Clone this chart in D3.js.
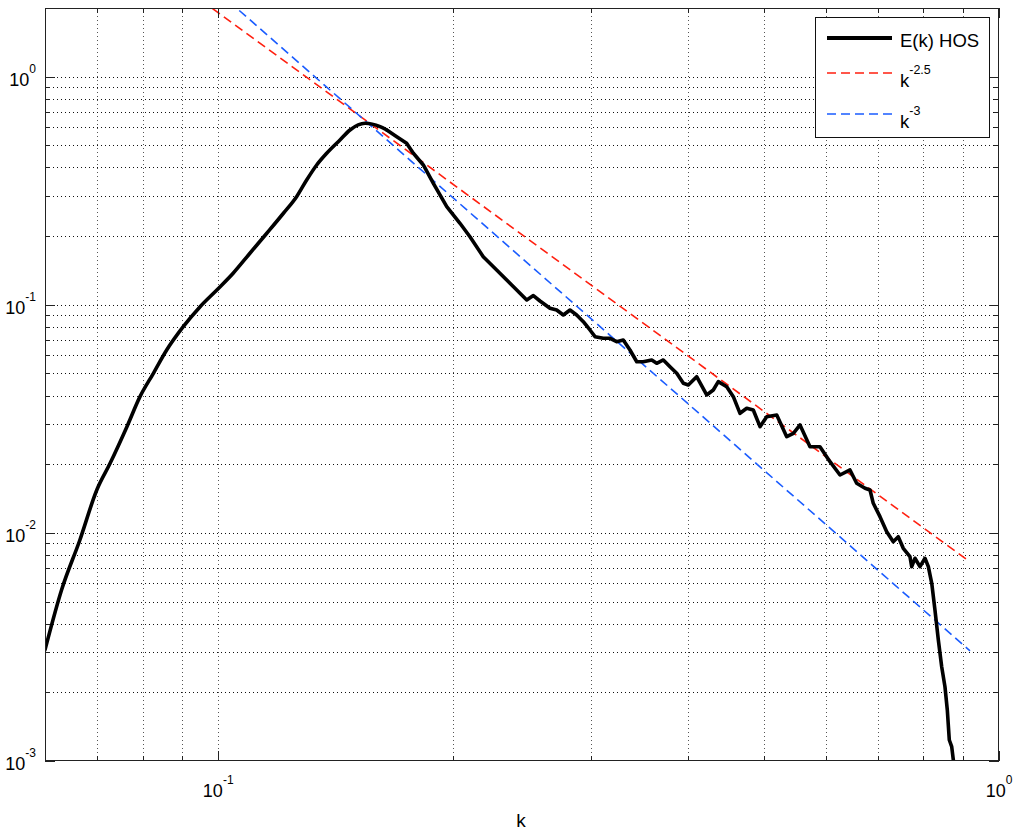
<!DOCTYPE html>
<html><head><meta charset="utf-8">
<script src="https://cdn.jsdelivr.net/npm/d3@7"></script>
<style>
body{margin:0;background:#fff}
svg{display:block}
text{font-family:"Liberation Sans",Arial,Helvetica,sans-serif;fill:#000}
</style>
</head><body>
<svg id="chart" width="1016" height="834"></svg>
<script>
// ---- data ----
const kValues = [0.0600,0.0630,0.0665,0.0699,0.0727,0.0764,0.0794,0.0826,0.0859,0.0902,0.0948,0.0996,
  0.1045,0.1098,0.1154,0.1212,0.1260,0.1298,0.1337,0.1377,0.1432,0.1475,0.1542,0.1612,0.1644,0.1693,
  0.1743,0.1778,0.1831,0.1886,0.1962,0.2040,0.2101,0.2185,0.2273,0.2364,0.2435,0.2484,0.2533,0.2583,
  0.2660,0.2713,0.2767,0.2822,0.2878,0.2935,0.2993,0.3038,0.3113,0.3175,0.3238,0.3302,0.3368,0.3436,
  0.3503,0.3591,0.3644,0.3716,0.3790,0.3866,0.3942,0.4000,0.4100,0.4223,0.4306,0.4370,0.4480,0.4568,
  0.4659,0.4752,0.4845,0.4942,0.5041,0.5192,0.5347,0.5453,0.5561,0.5727,0.5898,0.6075,0.6257,0.6444,
  0.6572,0.6736,0.6836,0.6902,0.7040,0.7181,0.7321,0.7430,0.7540,0.7691,0.7730,0.7805,0.7921,0.8039,
  0.8119,0.8201,0.8279,0.8362,0.8445,0.8527,0.8586,0.8637,0.8698,0.8740,0.8783];
const eValues = [0.00307,0.00562,0.00931,0.01542,0.02019,0.02921,0.03956,0.05008,0.06335,0.08017,0.0981,0.1161,
  0.1375,0.1682,0.2058,0.2519,0.2978,0.3525,0.4101,0.4615,0.5280,0.5839,0.6249,0.6037,0.5839,0.5457,
  0.5105,0.4615,0.4101,0.3409,0.2692,0.2277,0.1988,0.1625,0.1421,0.1243,0.1123,0.1050,0.1098,0.1039,
  0.09654,0.09489,0.09022,0.09489,0.09022,0.08433,0.07755,0.07246,0.07129,0.07129,0.06889,0.07009,0.06335,0.05628,
  0.05628,0.05728,0.05540,0.05728,0.05353,0.05008,0.04528,0.04450,0.04839,0.04023,0.04231,0.04602,0.04375,0.03956,
  0.03344,0.03518,0.03458,0.02921,0.03231,0.03287,0.02640,0.02733,0.02972,0.02387,0.02387,0.02052,0.01794,0.01887,
  0.01650,0.01569,0.01542,0.01348,0.01178,0.01012,0.009151,0.009623,0.008559,0.007864,0.00711,0.007738,0.00711,0.007738,
  0.00711,0.006012,0.004592,0.003392,0.002591,0.002117,0.001674,0.001236,0.001156,0.00101,0.00095];
const red25K = [0.092, 0.918];
const red25E = [2.35, 0.00746];
const blue3K = [0.100, 0.918];
const blue3E = [2.35, 0.00304];
const legendLabels = [{base:"E(k) HOS", sup:""},{base:"k", sup:"-2.5"},{base:"k", sup:"-3"}];
const xMajorTicks = [0.1, 1];
const xMinorTicks = [0.07,0.08,0.09,0.2,0.3,0.4,0.5,0.6,0.7,0.8,0.9];
const xTickLabels = [{v:0.1, exp:"-1"},{v:1, exp:"0"}];
const yMajorTicks = [0.001, 0.01, 0.1, 1];
const yMinorTicks = [];
[0.001,0.01,0.1,1].forEach(d=>{for(let m=2;m<=9;m++){const v=+(d*m).toPrecision(3); if(v<=2) yMinorTicks.push(v);}});
const yTickLabels = [{v:1,exp:"0"},{v:0.1,exp:"-1"},{v:0.01,exp:"-2"},{v:0.001,exp:"-3"}];
const xAxisTitle = "k";

// ---- layout ----
const L=45, R=999, T=8, B=761;
const svg = d3.select("#chart");
const x = d3.scaleLog().domain([0.06, 1]).range([L, R]);
const y = d3.scaleLog().domain([0.001, 2]).range([B, T]);

svg.append("rect").attr("width",1016).attr("height",834).attr("fill","#fff");

// grid
const grid = svg.append("g").attr("shape-rendering","crispEdges");
grid.selectAll("line.vx").data(xMinorTicks.concat([0.1])).join("line")
  .attr("x1",d=>Math.round(x(d))+0.5).attr("x2",d=>Math.round(x(d))+0.5)
  .attr("y1",T).attr("y2",B)
  .attr("stroke","#555").attr("stroke-width",1).attr("stroke-dasharray","1,3");
grid.selectAll("line.hy").data(yMinorTicks.concat([0.001,0.01,0.1,1]).filter(v=>v>0.001 && v<2)).join("line")
  .attr("y1",d=>Math.round(y(d))+0.5).attr("y2",d=>Math.round(y(d))+0.5)
  .attr("x1",L).attr("x2",R)
  .attr("stroke","#111").attr("stroke-width",1).attr("stroke-dasharray","1,3");

// clip
svg.append("clipPath").attr("id","clip").append("rect")
  .attr("x",L).attr("y",T).attr("width",R-L).attr("height",B-T);
const plot = svg.append("g").attr("clip-path","url(#clip)");

const lineLin = d3.line().x(d=>x(d[0])).y(d=>y(d[1]));
const lineSmooth = d3.line().x(d=>x(d[0])).y(d=>y(d[1])).curve(d3.curveMonotoneX);
plot.append("path").datum(d3.zip(red25K, red25E)).attr("d",lineLin)
  .attr("fill","none").attr("stroke","#ff1f0f").attr("stroke-width",1.6).attr("stroke-dasharray","9,5");
plot.append("path").datum(d3.zip(blue3K, blue3E)).attr("d",lineLin)
  .attr("fill","none").attr("stroke","#1a5cff").attr("stroke-width",1.6).attr("stroke-dasharray","9,5");
const spectrum = d3.zip(kValues, eValues);
const split = 24;
plot.append("path").datum(spectrum.slice(0, split+1)).attr("d",lineSmooth)
  .attr("fill","none").attr("stroke","#000").attr("stroke-width",3.6)
  .attr("stroke-linejoin","round").attr("stroke-linecap","round");
plot.append("path").datum(spectrum.slice(split)).attr("d",lineLin)
  .attr("fill","none").attr("stroke","#000").attr("stroke-width",3.6)
  .attr("stroke-linejoin","round").attr("stroke-linecap","round");

// axes with inward ticks on all four sides
function addAxis(gen, scale, vals, size, tr){
  const a = gen(scale).tickValues(vals).tickSize(size).tickFormat("");
  const g = svg.append("g").attr("transform",tr).call(a);
  g.select(".domain").remove();
  g.selectAll(".tick line").attr("stroke","#222").attr("shape-rendering","crispEdges");
}
addAxis(d3.axisBottom, x, xMajorTicks, -10, `translate(0,${B})`);
addAxis(d3.axisBottom, x, xMinorTicks, -5, `translate(0,${B})`);
addAxis(d3.axisTop, x, xMajorTicks, -10, `translate(0,${T})`);
addAxis(d3.axisTop, x, xMinorTicks, -5, `translate(0,${T})`);
addAxis(d3.axisLeft, y, yMajorTicks, -10, `translate(${L},0)`);
addAxis(d3.axisLeft, y, yMinorTicks, -5, `translate(${L},0)`);
addAxis(d3.axisRight, y, yMajorTicks, -10, `translate(${R},0)`);
addAxis(d3.axisRight, y, yMinorTicks, -5, `translate(${R},0)`);

svg.append("rect").attr("x",L+0.5).attr("y",T+0.5).attr("width",R-L-1).attr("height",B-T-1)
  .attr("fill","none").attr("stroke","#222").attr("stroke-width",1).attr("shape-rendering","crispEdges");

// tick labels
function powLabel(g, base, exp, fs, sfs){
  const t = g.append("text").style("font-size",fs+"px");
  t.append("tspan").text(base);
  if(exp) t.append("tspan").attr("dy",-13).style("font-size",sfs+"px").text(exp);
  return t;
}
xTickLabels.forEach(d=>{
  powLabel(svg, "10", d.exp, 18, 12).attr("y",797).attr("x",x(d.v)).attr("text-anchor","middle");
});
yTickLabels.forEach(d=>{
  powLabel(svg, "10", d.exp, 18, 12).attr("x",36).attr("y",y(d.v)+9).attr("text-anchor","end");
});
svg.append("text").attr("x",(L+R)/2-1).attr("y",827).attr("text-anchor","middle")
  .style("font-size","19px").text(xAxisTitle);

// legend
const lg = svg.append("g");
lg.append("rect").attr("x",815.5).attr("y",17.5).attr("width",174).attr("height",120)
  .attr("fill","#fff").attr("stroke","#111").attr("stroke-width",1);
const legStyles = [{c:"#000",w:4,dash:null,y:38},{c:"#ff1f0f",w:1.6,dash:"9,5",y:73},{c:"#1a5cff",w:1.6,dash:"9,5",y:114}];
legendLabels.forEach((d,i)=>{
  const s = legStyles[i];
  lg.append("line").attr("x1",827).attr("x2",892).attr("y1",s.y).attr("y2",s.y)
    .attr("stroke",s.c).attr("stroke-width",s.w).attr("stroke-dasharray",s.dash);
  const t = lg.append("text").attr("x",900).attr("y",s.y+(i===0?8.5:13.5)).style("font-size","18.5px");
  t.append("tspan").text(d.base);
  if(d.sup) t.append("tspan").attr("dy",-13).style("font-size","12.5px").text(d.sup);
});
</script>
</body></html>
